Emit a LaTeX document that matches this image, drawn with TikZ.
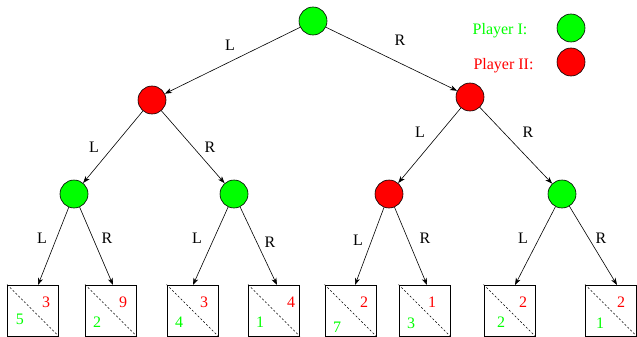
\documentclass[tikz,border=0pt]{standalone}
\usepackage{fontspec}
\setmainfont{Liberation Serif}
\usetikzlibrary{arrows.meta}
\definecolor{pgreen}{RGB}{0,255,0}
\definecolor{pred}{RGB}{255,0,0}
\tikzset{
  pl1/.style={circle,draw=black,line width=0.6pt,fill=pgreen,minimum size=28pt,inner sep=0pt},
  pl2/.style={circle,draw=black,line width=0.6pt,fill=pred,minimum size=28pt,inner sep=0pt},
  leaf/.style={rectangle,draw=black,line width=0.8pt,minimum width=51pt,minimum height=51pt,inner sep=0pt},
  edge/.style={-{Stealth[length=7pt,width=5pt,inset=2pt]},line width=0.6pt},
  lab/.style={font=\fontsize{16}{18}\selectfont,inner sep=0pt},
  pay1/.style={lab,text=pgreen},
  pay2/.style={lab,text=pred},
  diag/.style={dashed,dash pattern=on 2pt off 2pt,line width=0.6pt}
}
\begin{document}
\begin{tikzpicture}[x=1pt,y=-1pt]
\useasboundingbox (0,0) rectangle (637,337);
% nodes
\node[pl1] (root) at (313,21) {};
\node[pl2] (a) at (152,100) {};
\node[pl2] (b) at (470,97) {};
\node[pl1] (g1) at (74,194) {};
\node[pl1] (g2) at (234,194) {};
\node[pl2] (r2) at (389,194) {};
\node[pl1] (g3) at (562,194) {};
% leaves
\node[leaf] (b1) at (33,310.5) {};
\node[leaf] (b2) at (111,310.5) {};
\node[leaf] (b3) at (192.5,310.5) {};
\node[leaf] (b4) at (274,310.5) {};
\node[leaf] (b5) at (350.5,310.5) {};
\node[leaf] (b6) at (424.5,310.5) {};
\node[leaf] (b7) at (509.5,310.5) {};
\node[leaf] (b8) at (611,310.5) {};
\foreach \i in {1,...,8}{\draw[diag] (b\i.north west) -- (b\i.south east);}
% arrow targets
\coordinate (t1) at (38,285);
\coordinate (t2) at (113,285);
\coordinate (t3) at (193,285);
\coordinate (t4) at (277,285);
\coordinate (t5) at (355,285);
\coordinate (t6) at (427,285);
\coordinate (t7) at (515,285);
\coordinate (t8) at (617,285);
% edges
\draw[edge] (root) -- (a);
\draw[edge] (root) -- (b);
\draw[edge] (a) -- (g1);
\draw[edge] (a) -- (g2);
\draw[edge] (b) -- (r2);
\draw[edge] (b) -- (g3);
\draw[edge] (g1) -- (t1);
\draw[edge] (g1) -- (t2);
\draw[edge] (g2) -- (t3);
\draw[edge] (g2) -- (t4);
\draw[edge] (r2) -- (t5);
\draw[edge] (r2) -- (t6);
\draw[edge] (g3) -- (t7);
\draw[edge] (g3) -- (t8);
% edge labels
\node[lab] (l0) at (230,45) {L};
\node[lab] (r0) at (400,40) {R};
\node[lab] (l1) at (94,147) {L};
\node[lab] (r1) at (210,147) {R};
\node[lab] (l2) at (420,132) {L};
\node[lab] (r2l) at (528,132) {R};
\node[lab] (l3) at (42,238) {L};
\node[lab] (r3) at (107,238) {R};
\node[lab] (l4) at (197,238) {L};
\node[lab] (r4) at (270,242) {R};
\node[lab] (l5) at (358,240) {L};
\node[lab] (r5) at (425,238) {R};
\node[lab] (l6) at (523,238) {L};
\node[lab] (r6) at (601,238) {R};
% payoffs
\node[pay2] (p1r) at (46,302) {3};
\node[pay1] (p1g) at (20,319) {5};
\node[pay2] (p2r) at (123,302) {9};
\node[pay1] (p2g) at (97,322) {2};
\node[pay2] (p3r) at (204,302) {3};
\node[pay1] (p3g) at (179,322) {4};
\node[pay2] (p4r) at (291,302) {4};
\node[pay1] (p4g) at (260,322) {1};
\node[pay2] (p5r) at (364,302) {2};
\node[pay1] (p5g) at (337,327) {7};
\node[pay2] (p6r) at (432,302) {1};
\node[pay1] (p6g) at (411,323) {3};
\node[pay2] (p7r) at (523,302) {2};
\node[pay1] (p7g) at (501,322) {2};
\node[pay2] (p8r) at (621,302) {2};
\node[pay1] (p8g) at (600,323) {1};
% legend
\node[lab,text=pgreen] (leg1) at (500,31) {Player I:};
\node[lab,text=pred] (leg2) at (503.5,66) {Player II:};
\node[pl1] (c1) at (571,28) {};
\node[pl2] (c2) at (571,62) {};
\end{tikzpicture}
\end{document}
